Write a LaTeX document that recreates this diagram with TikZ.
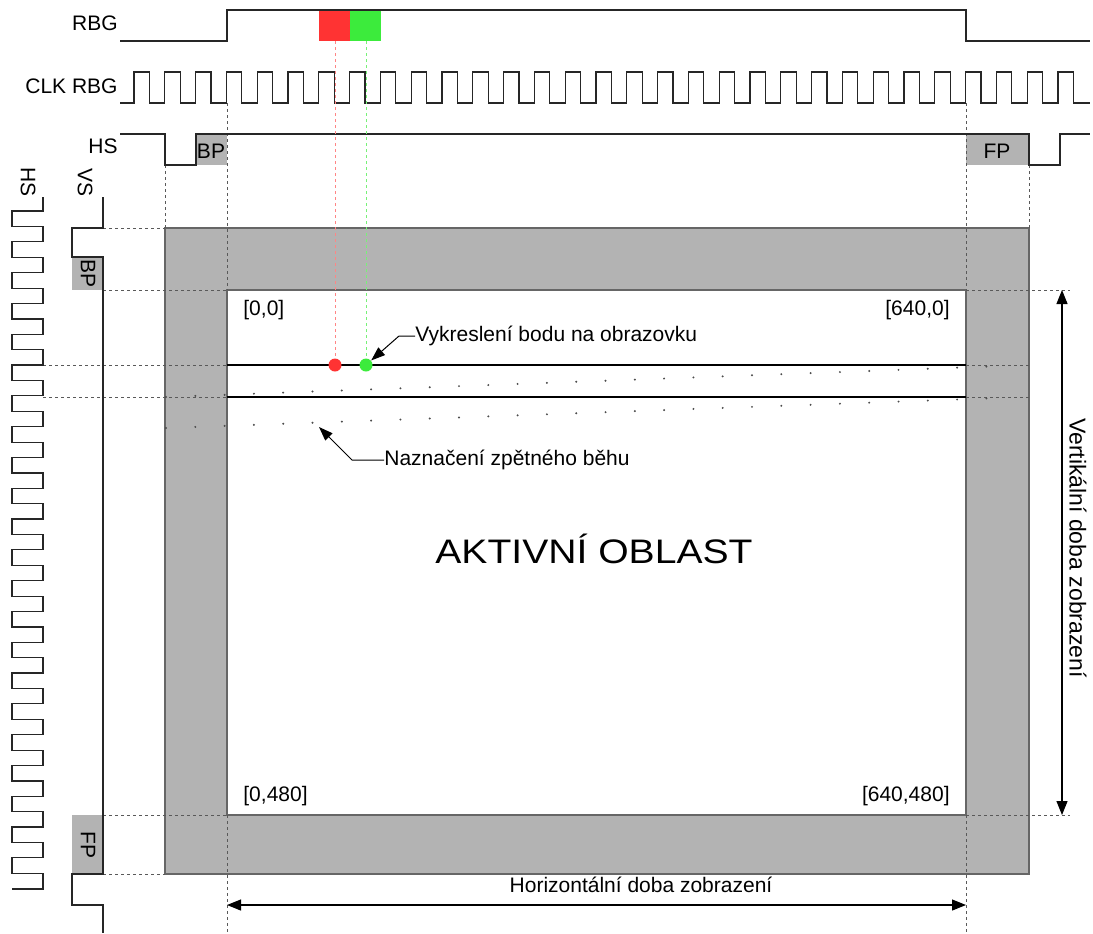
\documentclass[tikz,border=0pt]{standalone}
\usepackage{graphicx}
\usepackage{fontspec}
\setmainfont{Liberation Sans}
\usetikzlibrary{arrows.meta}
\definecolor{porchgray}{RGB}{179,179,179}
\definecolor{pixred}{RGB}{255,51,51}
\definecolor{pixgreen}{RGB}{60,235,60}

\begin{document}
\begin{tikzpicture}[x=0.5pt,y=-0.5pt,
    sig/.style={line width=0.6pt,black!85},
    guide/.style={line width=0.5pt,black!65,dash pattern=on 1.5pt off 1.5pt},
    lbl/.style={font=\fontsize{10.5}{12}\selectfont,inner sep=0pt},
    dimarrow/.style={line width=0.6pt,{Triangle[length=7pt,width=5.5pt]}-{Triangle[length=7pt,width=5.5pt]}},
    notearrow/.style={line width=0.5pt,-{Triangle[length=7pt,width=5pt]}},
    pixel/.style={circle,inner sep=0pt,minimum size=6.5pt}]
\useasboundingbox (0,0) rectangle (1093,933);

% Blanking frame and active area
\draw[fill=porchgray,draw=black!60,line width=0.6pt] (165,228) rectangle (1029,874);
\draw[fill=white,draw=black!60,line width=0.6pt] (227,290) rectangle (966,815);

% Porch boxes
\fill[porchgray] (196,134) rectangle (227,165);
\fill[porchgray] (966,134) rectangle (1029,165);
\fill[porchgray] (72,257) rectangle (103,290);
\fill[porchgray] (72,815) rectangle (103,874);
\node[lbl] (hbp) at (211,151) {BP};
\node[lbl] (hfp) at (997,151) {FP};
\node[lbl,rotate=-90] (vbp) at (88,273) {BP};
\node[lbl,rotate=-90] (vfp) at (88,845) {FP};

% Guides
\draw[guide] (165,165) -- (165,228);
\draw[guide] (1029,165) -- (1029,228);
\draw[guide] (227,103) -- (227,290);
\draw[guide] (227,815) -- (227,933);
\draw[guide] (966,103) -- (966,290);
\draw[guide] (966,815) -- (966,933);
\draw[guide] (103,228) -- (165,228);
\draw[guide] (103,290) -- (227,290);
\draw[guide] (966,290) -- (1070,290);
\draw[guide] (103,815) -- (227,815);
\draw[guide] (966,815) -- (1070,815);
\draw[guide] (103,874) -- (165,874);
\foreach \y in {365,397} {
    \draw[guide] (43,\y) -- (227,\y);
    \draw[guide] (966,\y) -- (1029,\y);
    \draw[line width=0.6pt] (227,\y) -- (966,\y);
}

% Retrace
\foreach \k in {0,...,28} {
    \pgfmathsetmacro{\px}{166+29.3*\k}
    \fill[black!70] (\px,{397-(\px-165)*0.037}) circle[radius=0.55pt];
    \fill[black!70] (\px,{428-(\px-165)*0.036}) circle[radius=0.55pt];
}

% RBG
\fill[pixred] (319,10) rectangle (350,41);
\fill[pixgreen] (350,10) rectangle (381,41);
\draw[sig] (120,41) -- (227,41) -- (227,10) -- (966,10) -- (966,41) -- (1090,41);
% CLK RBG
\draw[sig] (120,103) \foreach \k in {0,...,30} { -- ({134+30.8*\k},103) -- ({134+30.8*\k},72) -- ({149.4+30.8*\k},72) -- ({149.4+30.8*\k},103) } -- (1090,103);
% HS
\draw[sig] (120,134) -- (165,134) -- (165,165) -- (196,165) -- (196,134) -- (1029,134) -- (1029,165) -- (1060,165) -- (1060,134) -- (1090,134);
% VS and HS down the side
\draw[sig] (103,197) -- (103,228) -- (72,228) -- (72,257) -- (103,257) -- (103,874) -- (72,874) -- (72,905) -- (103,905) -- (103,933);
\draw[sig] (43,197) \foreach \k in {0,...,21} { -- (43,{211+30.8*\k}) -- (12,{211+30.8*\k}) -- (12,{226.6+30.8*\k}) -- (43,{226.6+30.8*\k}) } -- (43,889) -- (12,889);

% Signal names
\node[lbl,anchor=east] (rbg) at (118,23) {RBG};
\node[lbl,anchor=east] (clkrbg) at (118,86) {CLK RBG};
\node[lbl,anchor=east] (hs) at (118,146) {HS};
\node[lbl,rotate=-90] (hsside) at (28,182) {HS};
\node[lbl,rotate=-90] (vsside) at (85,182) {VS};

% Pixels
\coordinate (rtop) at (335,41);
\coordinate (gtop) at (366,41);
\node[pixel,fill=pixred] (rdot) at (335,365) {};
\node[pixel,fill=pixgreen] (gdot) at (366,365) {};
\draw[guide,pixred!60] (rtop) -- (rdot);
\draw[guide,pixgreen!70] (gtop) -- (gdot);

% Corners
\node[lbl,anchor=west] (tl) at (243,310) {[0,0]};
\node[lbl,anchor=east] (tr) at (950,310) {[640,0]};
\node[lbl,anchor=west] (bl) at (243,796) {[0,480]};
\node[lbl,anchor=east] (br) at (950,796) {[640,480]};
\node[font=\fontsize{17}{20}\selectfont,inner sep=0pt] (active) at (594,549) {\scalebox{1.15}[1]{AKTIVNÍ OBLAST}};

% Notes
\node[lbl,anchor=west] (plotnote) at (415,336) {Vykreslení bodu na obrazovku};
\draw[notearrow] (plotnote.west) -- ++(-16,0) -- (gdot);
\node[lbl,anchor=west] (retnote) at (384,460) {Naznačení zpětného běhu};
\coordinate (rettip) at (319,427);
\draw[notearrow] (retnote.west) -- ++(-32,0) -- (rettip);

% Display times
\coordinate (hl) at (227,905);
\coordinate (hr) at (966,905);
\draw[dimarrow] (hl) -- (hr);
\node[lbl] (hlabel) at (641,885) {Horizontální doba zobrazení};
\coordinate (vt) at (1062,290);
\coordinate (vb) at (1062,815);
\draw[dimarrow] (vt) -- (vb);
\node[lbl,rotate=-90,font=\fontsize{11.5}{13}\selectfont] (vlabel) at (1078,548) {Vertikální doba zobrazení};

\end{tikzpicture}
\end{document}
